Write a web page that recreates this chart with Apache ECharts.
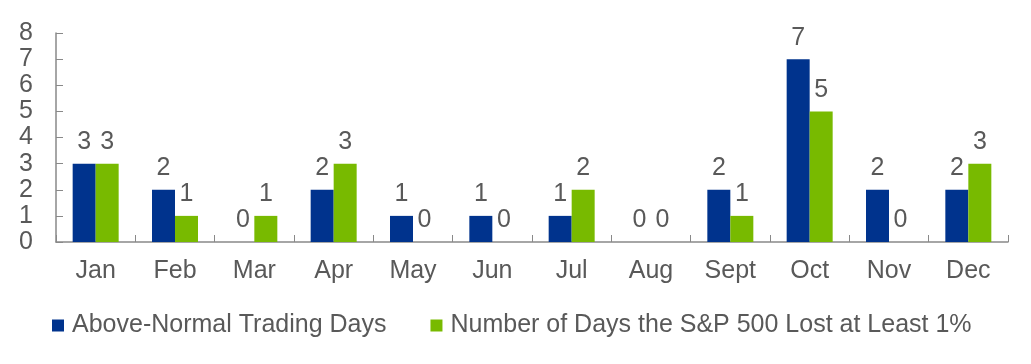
<!DOCTYPE html>
<html>
<head>
<meta charset="utf-8">
<script src="https://cdn.jsdelivr.net/npm/echarts@6/dist/echarts.min.js"></script>
<style>
html,body{margin:0;padding:0;background:#fff;}
#chart{width:1031px;height:364px;}
</style>
</head>
<body>
<div id="chart"></div>
<script>
const categories = ['Jan','Feb','Mar','Apr','May','Jun','Jul','Aug','Sept','Oct','Nov','Dec'];
const aboveNormal = [3,2,0,2,1,1,1,0,2,7,2,2];
const lostOnePct = [3,1,1,3,0,0,2,0,1,5,0,3];
const seriesNames = ['Above-Normal Trading Days','Number of Days the S&P 500 Lost at Least 1%'];

const textColor = '#595959';
const axisColor = '#898989';
const fontFamily = 'Liberation Sans, Arial, sans-serif';

const chart = echarts.init(document.getElementById('chart'));
const labelCfg = {
  show: true, position: 'top', distance: 9,
  color: textColor, fontSize: 25, fontFamily: fontFamily
};
chart.setOption({
  animation: false,
  textStyle: {fontFamily: fontFamily},
  grid: {left: 56, right: 23, top: 33, bottom: 122, containLabel: false},
  legend: {
    left: 47, top: 308, itemWidth: 12, itemHeight: 12, itemGap: 44,
    icon: 'rect',
    textStyle: {color: textColor, fontSize: 25, fontFamily: fontFamily, padding: [0,0,0,3]},
    data: seriesNames
  },
  xAxis: {
    type: 'category', data: categories,
    axisLine: {lineStyle: {color: axisColor, width: 1.5}},
    axisTick: {show: true, inside: true, length: 7, lineStyle: {color: axisColor}},
    axisLabel: {color: textColor, fontSize: 25, margin: 17, fontFamily: fontFamily}
  },
  yAxis: {
    type: 'value', min: 0, max: 8, interval: 1,
    splitLine: {show: false},
    axisLine: {show: true, lineStyle: {color: axisColor, width: 1.5}},
    axisTick: {show: true, inside: true, length: 7, lineStyle: {color: axisColor}},
    axisLabel: {color: textColor, fontSize: 25, margin: 23, fontFamily: fontFamily}
  },
  series: [
    {name: seriesNames[0], type: 'bar', data: aboveNormal, barWidth: 23, barGap: '0%',
     itemStyle: {color: '#00338D'}, label: labelCfg},
    {name: seriesNames[1], type: 'bar', data: lostOnePct, barWidth: 23, barGap: '0%',
     itemStyle: {color: '#78BA00'}, label: labelCfg}
  ]
});
</script>
</body>
</html>
